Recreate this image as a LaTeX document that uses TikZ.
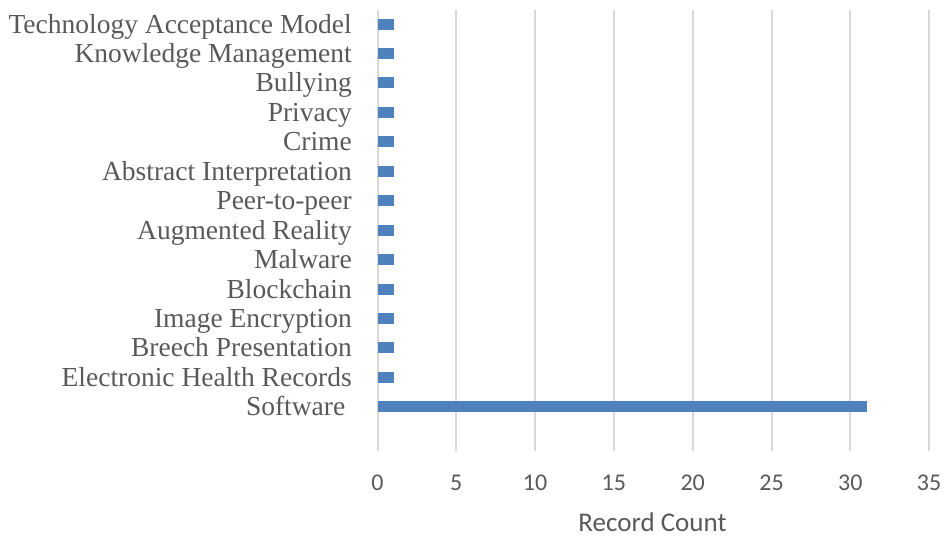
\documentclass[tikz,border=0pt]{standalone}
\usepackage{fontspec}
\setmainfont{Liberation Serif}
\newfontfamily\calibri{Carlito}
\usetikzlibrary{positioning}

\definecolor{barblue}{HTML}{4F81BD}
\definecolor{gridgray}{HTML}{D9D9D9}
\definecolor{textgray}{HTML}{595959}

\begin{document}
\begin{tikzpicture}[x=1pt, y=-1pt,
  catlabel/.style={anchor=base east, inner sep=0pt, text=textgray, font=\fontsize{27.5}{30}\selectfont},
  ticklabel/.style={anchor=base, inner sep=0pt, text=textgray, font=\calibri\fontsize{24}{28}\selectfont},
  gridline/.style={gridgray, line width=2pt}]
\useasboundingbox (0,0) rectangle (944,536);

% vertical grid and value axis
\foreach \v in {0,5,...,35} {
  \draw[gridline] ({377.5+15.76*\v},10) -- ({377.5+15.76*\v},451);
  \node[ticklabel] (tick\v) at ({377.5+15.76*\v},490) {\v};
}

% bars and category labels
\foreach \lab/\val [count=\i from 0] in {Technology Acceptance Model/1, Knowledge Management/1,
    Bullying/1, Privacy/1, Crime/1, Abstract Interpretation/1, Peer-to-peer/1,
    Augmented Reality/1, Malware/1, Blockchain/1, Image Encryption/1,
    Breech Presentation/1, Electronic Health Records/1, Software\kern6.5pt/31} {
  \fill[barblue] (378,{24+29.45*\i-5.5}) rectangle ++({15.76*\val},11);
  \node[catlabel] (cat\i) at (352,{24+29.45*\i+9}) {\lab};
}

\node[ticklabel, font=\calibri\fontsize{27}{30}\selectfont] (axistitle) at (652.5,531) {Record Count};
\end{tikzpicture}
\end{document}
